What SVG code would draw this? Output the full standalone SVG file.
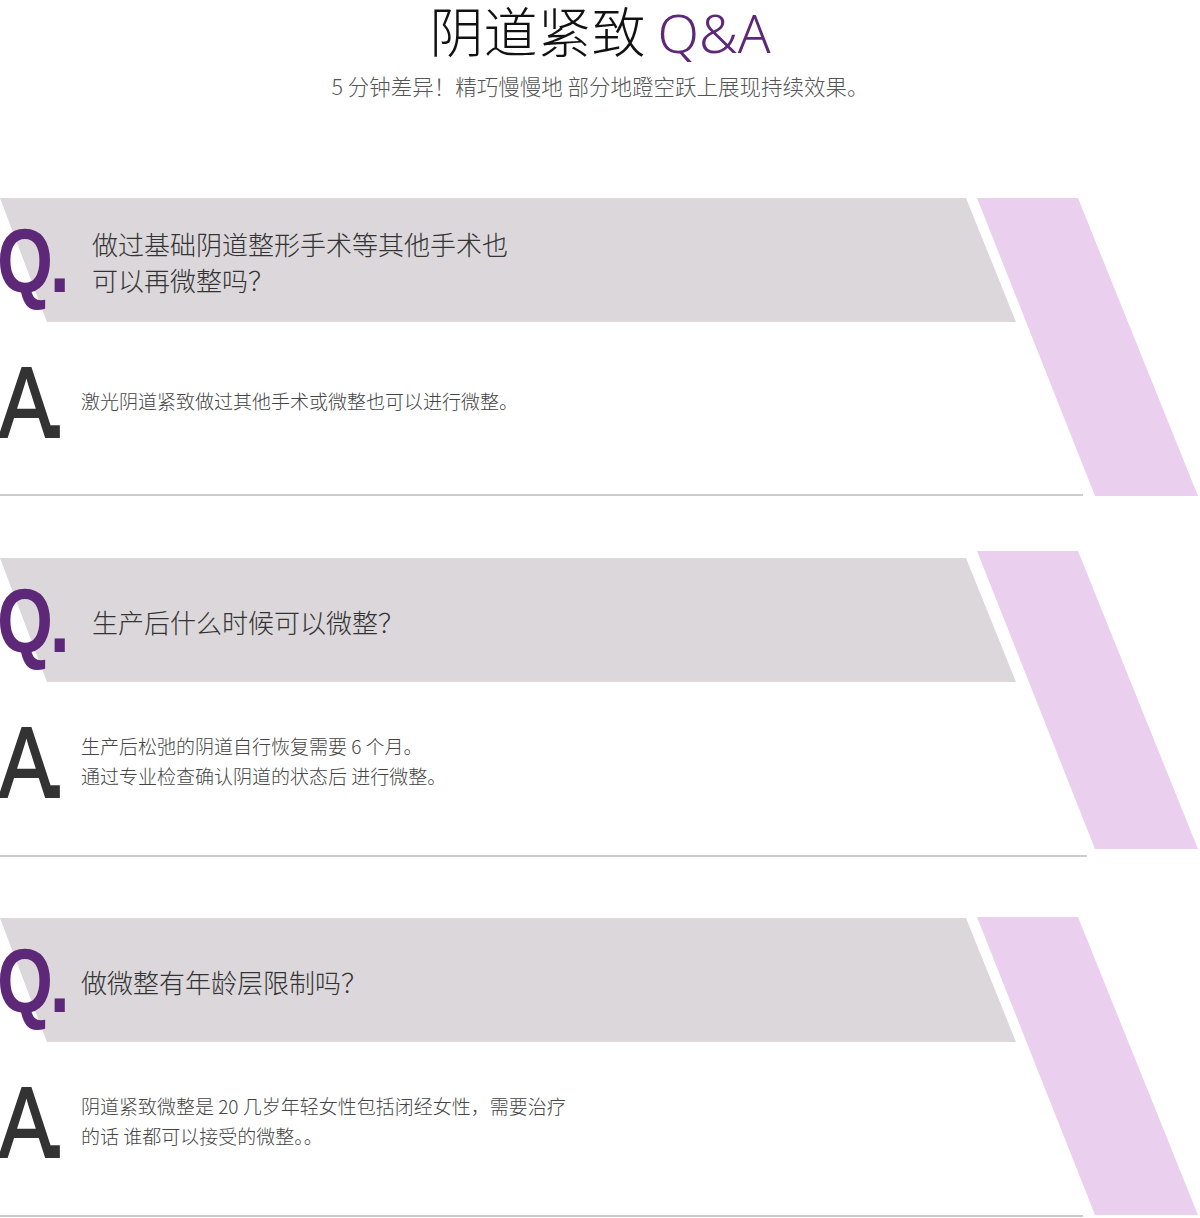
<svg xmlns="http://www.w3.org/2000/svg" width="1200" height="1218" viewBox="0 0 1200 1218">
<style>
.t{font-family:"Noto Sans CJK SC","Noto Sans",sans-serif}
.q{font-family:"Liberation Sans","Noto Sans",sans-serif;font-weight:bold;font-size:90px;fill:#5e2878;letter-spacing:-4px}
.a{font-family:"Liberation Sans","Noto Sans",sans-serif;font-size:100px;fill:#333;stroke:#333;stroke-width:2;letter-spacing:-12px}
.qt{font-size:26px;fill:#333;font-weight:300}
.at{font-size:19px;fill:#444;font-weight:300}
.band{fill:#dbd7db}
.pink{fill:#eacfee}
.ln{stroke:#cccccc;stroke-width:2}
</style>
<g id="title" class="t">
<text x="600" y="53" text-anchor="middle" font-size="54" font-weight="300"><tspan fill="#111">阴道紧致 </tspan><tspan fill="#5e2878" font-family="Noto Sans,sans-serif">Q&amp;A</tspan></text>
<text x="600" y="95" text-anchor="middle" font-size="21.5" fill="#555" font-weight="300">5 分钟差异！精巧慢慢地 部分地蹬空跃上展现持续效果。</text>
</g>
<g id="block1">
<polygon class="pink" points="977,198 1078,198 1198,496 1095,496"/>
<polygon class="band" points="0,198 966,198 1016,322 47,322"/>
<line class="ln" x1="0" y1="495" x2="1083" y2="495"/>
<text class="q" transform="translate(-3,292) scale(0.8,1)">Q.</text>
<text class="t qt" x="92" y="255">做过基础阴道整形手术等其他手术也</text>
<text class="t qt" x="92" y="291">可以再微整吗？</text>
<text class="a" transform="translate(-1,437) scale(0.82,1)">A.</text>
<text class="t at" x="81" y="409">激光阴道紧致做过其他手术或微整也可以进行微整。</text>
</g>
<g id="block2">
<polygon class="pink" points="977,551 1078,551 1198,849 1095,849"/>
<polygon class="band" points="0,558 966,558 1016,682 47,682"/>
<line class="ln" x1="0" y1="856" x2="1087" y2="856"/>
<text class="q" transform="translate(-3,652) scale(0.8,1)">Q.</text>
<text class="t qt" x="92" y="633">生产后什么时候可以微整？</text>
<text class="a" transform="translate(-1,797) scale(0.82,1)">A.</text>
<text class="t at" x="81" y="754">生产后松弛的阴道自行恢复需要 6 个月。</text>
<text class="t at" x="81" y="784">通过专业检查确认阴道的状态后 进行微整。</text>
</g>
<g id="block3">
<polygon class="pink" points="977,917 1078,917 1198,1215 1095,1215"/>
<polygon class="band" points="0,918 966,918 1016,1042 47,1042"/>
<line class="ln" x1="0" y1="1216" x2="1083" y2="1216"/>
<text class="q" transform="translate(-3,1012) scale(0.8,1)">Q.</text>
<text class="t qt" x="81" y="993">做微整有年龄层限制吗？</text>
<text class="a" transform="translate(-1,1157) scale(0.82,1)">A.</text>
<text class="t at" x="81" y="1114">阴道紧致微整是 20 几岁年轻女性包括闭经女性，需要治疗</text>
<text class="t at" x="81" y="1144">的话 谁都可以接受的微整。。</text>
</g>
</svg>
